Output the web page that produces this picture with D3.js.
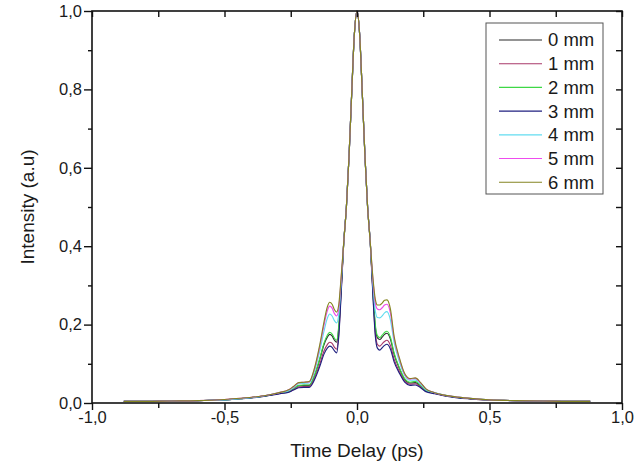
<!DOCTYPE html>
<html>
<head>
<meta charset="utf-8">
<script src="https://cdnjs.cloudflare.com/ajax/libs/d3/7.8.5/d3.min.js"></script>
<style>
  body { margin: 0; background: #fff; }
  text { font-family: "Liberation Sans", Arial, sans-serif; fill: #1a1a1a; }
  .tickLabel { font-size: 16.5px; }
  .axisTitle { font-size: 19px; }
  .legendLabel { font-size: 18.5px; }
</style>
</head>
<body>
<div id="chart"></div>
<script>
// time delay grid (ps), shared by all series
let delay = [-0.88, -0.8, -0.7, -0.6, -0.5, -0.44, -0.38, -0.33, -0.29, -0.26,
    -0.24, -0.22, -0.2, -0.18, -0.16, -0.14, -0.125, -0.112, -0.103, -0.094,
    -0.085, -0.077, -0.069, -0.06, -0.05, -0.04, -0.03, -0.02, -0.01, 0,
    0.01, 0.02, 0.03, 0.04, 0.05, 0.06, 0.069, 0.077, 0.086, 0.095,
    0.104, 0.113, 0.126, 0.14, 0.16, 0.18, 0.2, 0.22, 0.24, 0.26,
    0.29, 0.33, 0.38, 0.44, 0.5, 0.6, 0.7, 0.8, 0.88];

let mm0 = [.004, .004, .005, .006, .008, .011, .015, .02, .025, .029,
    .036, .044, .045, .045, .07, .112, .148, .168, .175, .171,
    .16, .155, .19, .288, .41, .5, .63, .79, .94, 1.0,
    .94, .79, .63, .5, .41, .288, .195, .166, .162, .168,
    .175, .178, .163, .124, .088, .06, .051, .052, .043, .031,
    .026, .019, .014, .01, .008, .006, .005, .004, .004];
let mm1 = [.004, .004, .005, .006, .008, .011, .015, .02, .025, .028,
    .034, .041, .042, .042, .064, .1, .132, .149, .155, .152,
    .142, .137, .175, .28, .41, .5, .63, .79, .94, 1.0,
    .94, .79, .63, .5, .41, .28, .18, .15, .145, .151,
    .157, .16, .147, .112, .08, .056, .048, .049, .041, .03,
    .025, .019, .014, .01, .008, .006, .005, .004, .004];
let mm2 = [.004, .004, .005, .006, .008, .011, .015, .02, .026, .03,
    .037, .045, .046, .046, .072, .115, .152, .173, .18, .176,
    .165, .16, .195, .29, .41, .5, .63, .79, .94, 1.0,
    .94, .79, .63, .5, .41, .29, .2, .172, .167, .173,
    .18, .183, .168, .128, .09, .062, .053, .055, .045, .032,
    .026, .02, .014, .011, .008, .006, .005, .004, .004];
let mm3 = [.004, .004, .005, .006, .008, .011, .014, .019, .024, .027,
    .033, .039, .04, .04, .06, .094, .124, .14, .145, .142,
    .133, .128, .168, .275, .41, .5, .63, .79, .94, 1.0,
    .94, .79, .63, .5, .41, .275, .172, .14, .135, .141,
    .147, .15, .138, .105, .076, .053, .045, .046, .039, .029,
    .024, .018, .013, .01, .007, .006, .005, .004, .004];
let mm4 = [.004, .004, .005, .006, .008, .011, .015, .021, .027, .031,
    .039, .049, .05, .051, .082, .135, .182, .216, .227, .222,
    .21, .204, .225, .305, .41, .5, .63, .79, .94, 1.0,
    .94, .79, .63, .5, .41, .305, .235, .218, .217, .222,
    .23, .233, .212, .155, .105, .07, .058, .059, .048, .034,
    .027, .02, .015, .011, .008, .006, .005, .004, .004];
let mm5 = [.004, .004, .005, .006, .009, .012, .016, .021, .027, .033,
    .041, .052, .053, .054, .087, .145, .197, .235, .247, .242,
    .228, .222, .24, .315, .41, .5, .63, .79, .94, 1.0,
    .94, .79, .63, .5, .41, .315, .255, .24, .238, .243,
    .25, .252, .23, .165, .112, .073, .061, .063, .051, .036,
    .027, .02, .015, .011, .008, .006, .005, .004, .004];
let mm6 = [.004, .004, .005, .006, .009, .012, .016, .021, .027, .033,
    .042, .052, .053, .055, .09, .15, .205, .245, .257, .252,
    .238, .232, .25, .32, .41, .5, .63, .79, .94, 1.0,
    .94, .79, .63, .5, .41, .32, .265, .25, .25, .255,
    .262, .263, .24, .17, .115, .075, .062, .064, .052, .036,
    .027, .02, .015, .011, .008, .006, .005, .004, .004];

let seriesNames = ['0 mm', '1 mm', '2 mm', '3 mm', '4 mm', '5 mm', '6 mm'];
let seriesValues = [mm0, mm1, mm2, mm3, mm4, mm5, mm6];
let seriesColors = ['#2a2a2a', '#a8386a', '#3ed846', '#202080', '#62dcf0', '#ee4cee', '#858522'];

let xMajor = [-1, -0.5, 0, 0.5, 1];
let xMinor = [-0.75, -0.25, 0.25, 0.75];
let yMajor = [0, 0.2, 0.4, 0.6, 0.8, 1.0];
let yMinor = [0.1, 0.3, 0.5, 0.7, 0.9];

let margin = {top: 11, right: 12, bottom: 68, left: 92};
let width = 634 - margin.left - margin.right;
let height = 471 - margin.top - margin.bottom;
let svg = d3.select('#chart').append('svg')
    .attr('width', 634)
    .attr('height', 471)
    .append('g')
    .attr('transform', 'translate(' + margin.left + ',' + margin.top + ')');
let x = d3.scaleLinear()
    .range([0, width])
    .domain([-1, 1]);
let y = d3.scaleLinear()
    .range([height, 0])
    .domain([0, 1]);
let fmt = function(d) { return d.toFixed(1).replace('.', ','); };

let curve = d3.line()
    .x(function(d) { return x(d[0]); })
    .y(function(d) { return y(d[1]); })
    .curve(d3.curveMonotoneX);

seriesValues.forEach(function(vals, i) { // Draw each thickness curve
    svg.append('path')
        .datum(delay.map(function(t, j) { return [t, vals[j]]; }))
        .attr('fill', 'none')
        .attr('stroke', seriesColors[i])
        .attr('stroke-width', 1.15)
        .attr('d', curve);
});

svg.append('g') // Bottom axis, major
    .attr('transform', 'translate(0,' + height + ')')
    .call(d3.axisBottom(x).tickValues(xMajor).tickSize(7).tickPadding(1).tickFormat(fmt))
    .call(function(g) { g.selectAll('text').attr('class', 'tickLabel').attr('font-size', null).attr('font-family', null); });
svg.append('g') // Bottom axis, minor
    .attr('transform', 'translate(0,' + height + ')')
    .call(d3.axisBottom(x).tickValues(xMinor).tickSize(5).tickFormat(''));
svg.append('g') // Left axis, major
    .call(d3.axisLeft(y).tickValues(yMajor).tickSize(8).tickPadding(2).tickFormat(fmt))
    .call(function(g) { g.selectAll('text').attr('class', 'tickLabel').attr('font-size', null).attr('font-family', null); });
svg.append('g') // Left axis, minor
    .call(d3.axisLeft(y).tickValues(yMinor).tickSize(4).tickFormat(''));
svg.append('g') // Top axis, ticks pointing in
    .call(d3.axisTop(x).tickValues(xMajor.concat(xMinor)).tickSize(-6).tickFormat(''));
svg.append('g') // Right axis, ticks pointing in
    .attr('transform', 'translate(' + width + ',0)')
    .call(d3.axisRight(y).tickValues(yMajor.concat(yMinor)).tickSize(-6).tickFormat(''));
svg.selectAll('.domain').remove();
svg.selectAll('.tick line').attr('stroke', '#111').attr('stroke-width', 1.4);

svg.append('rect') // Plot frame
    .attr('x', 0)
    .attr('y', 0)
    .attr('width', width)
    .attr('height', height)
    .attr('fill', 'none')
    .attr('stroke', '#111')
    .attr('stroke-width', 1.6);

svg.append('text') // x axis label
    .attr('class', 'axisTitle')
    .attr('text-anchor', 'middle')
    .attr('x', width / 2)
    .attr('y', height + 54)
    .text('Time Delay (ps)');
svg.append('text') // y axis label
    .attr('class', 'axisTitle')
    .attr('text-anchor', 'middle')
    .attr('transform', 'rotate(-90)')
    .attr('x', -height / 2)
    .attr('y', -58)
    .text('Intensity (a.u)');

let legend = svg.append('g') // Legend box
    .attr('transform', 'translate(' + (486 - margin.left) + ',' + (23 - margin.top) + ')');
legend.append('rect')
    .attr('width', 117)
    .attr('height', 171)
    .attr('fill', '#fff')
    .attr('stroke', '#555')
    .attr('stroke-width', 1);
seriesNames.forEach(function(name, i) {
    let rowY = 17 + i * 23.7;
    legend.append('line')
        .attr('x1', 13)
        .attr('x2', 56)
        .attr('y1', rowY)
        .attr('y2', rowY)
        .attr('stroke', seriesColors[i])
        .attr('stroke-width', 1.15);
    legend.append('text')
        .attr('class', 'legendLabel')
        .attr('x', 62)
        .attr('y', rowY)
        .attr('dy', '0.35em')
        .text(name);
});
</script>
</body>
</html>
